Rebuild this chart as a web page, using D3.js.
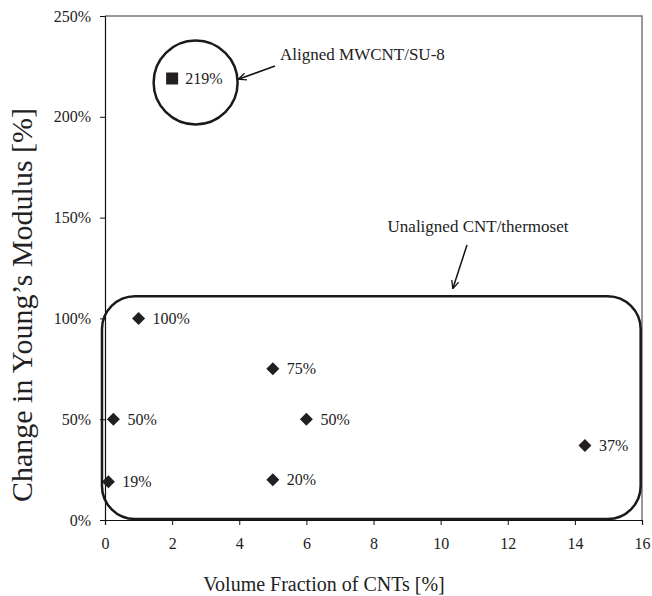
<!DOCTYPE html>
<html>
<head>
<meta charset="utf-8">
<script src="https://cdn.jsdelivr.net/npm/d3@7"></script>
<style>
  body { margin: 0; background: #fff; }
  svg text { font-family: "Liberation Serif", "DejaVu Serif", serif; fill: #222; }
</style>
</head>
<body>
<svg id="chart" width="652" height="596"></svg>
<script>
// unaligned CNT/thermoset points
const unalignedX = [1, 0.25, 0.1, 5, 6, 5, 14.3];
const unalignedY = [100, 50, 19, 75, 50, 20, 37];
// aligned MWCNT/SU-8 point
const alignedX = [2];
const alignedY = [219];

const xTicks = [0, 2, 4, 6, 8, 10, 12, 14, 16];
const yTicks = [0, 50, 100, 150, 200, 250];

const margin = { top: 16, right: 10, bottom: 76, left: 105 };
const width = 652, height = 596;

const svg = d3.select("#chart");

const x = d3.scaleLinear().domain([0, 16]).range([margin.left, width - margin.right]);
const y = d3.scaleLinear().domain([0, 250]).range([height - margin.bottom, margin.top]);

// plot frame (top/right grey)
svg.append("path")
  .attr("d", `M${x(0)},${y(250)}H${x(16)}V${y(0)}`)
  .attr("fill", "none")
  .attr("stroke", "#777")
  .attr("stroke-width", 1.5);

// axes
const xAxis = svg.append("g")
  .attr("transform", `translate(0,${y(0)})`)
  .call(d3.axisBottom(x).tickValues(xTicks).tickSize(5).tickPadding(13).tickFormat(d3.format("d")));
const yAxis = svg.append("g")
  .attr("transform", `translate(${x(0)},0)`)
  .call(d3.axisLeft(y).tickValues(yTicks).tickSize(5).tickPadding(9).tickFormat((d) => d + "%"));

[xAxis, yAxis].forEach((g) => {
  g.attr("font-family", null);
  g.select(".domain").attr("stroke", "#111").attr("stroke-width", 1.2);
  g.selectAll(".tick line").attr("stroke", "#111");
  g.selectAll(".tick text")
    .attr("font-size", 16)
    .attr("fill", "#222");
});

// rounded box around the unaligned group
svg.append("rect")
  .attr("x", x(-0.09))
  .attr("y", y(111))
  .attr("width", x(15.96) - x(-0.09))
  .attr("height", y(0.5) - y(111))
  .attr("rx", 33)
  .attr("ry", 33)
  .attr("fill", "none")
  .attr("stroke", "#1a1a1a")
  .attr("stroke-width", 2.5);

// circle around the aligned point
svg.append("circle")
  .attr("cx", x(2.7))
  .attr("cy", y(217))
  .attr("r", 42)
  .attr("fill", "none")
  .attr("stroke", "#1a1a1a")
  .attr("stroke-width", 2.5);

// diamonds
svg.selectAll(".diamond")
  .data(unalignedX)
  .enter()
  .append("path")
  .attr("class", "diamond")
  .attr("d", "M0,-6.5L6.5,0L0,6.5L-6.5,0Z")
  .attr("transform", (d, i) => `translate(${x(d)},${y(unalignedY[i])})`)
  .attr("fill", "#231f20");

svg.selectAll(".dlabel")
  .data(unalignedX)
  .enter()
  .append("text")
  .attr("class", "dlabel")
  .attr("x", (d) => x(d) + 14)
  .attr("y", (d, i) => y(unalignedY[i]))
  .attr("dy", "0.35em")
  .attr("font-size", 16)
  .text((d, i) => unalignedY[i] + "%");

// square
svg.selectAll(".square")
  .data(alignedX)
  .enter()
  .append("rect")
  .attr("class", "square")
  .attr("x", (d) => x(d) - 6)
  .attr("y", (d, i) => y(alignedY[i]) - 6)
  .attr("width", 12)
  .attr("height", 12)
  .attr("fill", "#231f20");

svg.selectAll(".slabel")
  .data(alignedX)
  .enter()
  .append("text")
  .attr("class", "slabel")
  .attr("x", (d) => x(d) + 13)
  .attr("y", (d, i) => y(alignedY[i]))
  .attr("dy", "0.35em")
  .attr("font-size", 16)
  .text((d, i) => alignedY[i] + "%");

// arrowheads
svg.append("defs")
  .append("marker")
  .attr("id", "arrow")
  .attr("viewBox", "0 -5 10 10")
  .attr("refX", 9)
  .attr("refY", 0)
  .attr("markerWidth", 8)
  .attr("markerHeight", 8)
  .attr("markerUnits", "userSpaceOnUse")
  .attr("orient", "auto")
  .append("path")
  .attr("d", "M0,-4.5L10,0L0,4.5")
  .attr("fill", "none")
  .attr("stroke", "#111")
  .attr("stroke-width", 1.6);

// annotations
svg.append("text")
  .attr("x", 280)
  .attr("y", 60)
  .attr("font-size", 17)
  .text("Aligned MWCNT/SU-8");
svg.append("line")
  .attr("x1", 275).attr("y1", 66)
  .attr("x2", 239).attr("y2", 79)
  .attr("stroke", "#111")
  .attr("stroke-width", 1.5)
  .attr("marker-end", "url(#arrow)");

svg.append("text")
  .attr("x", 478)
  .attr("y", 232)
  .attr("text-anchor", "middle")
  .attr("font-size", 17)
  .text("Unaligned CNT/thermoset");
svg.append("line")
  .attr("x1", 467).attr("y1", 245)
  .attr("x2", 453).attr("y2", 288)
  .attr("stroke", "#111")
  .attr("stroke-width", 1.5)
  .attr("marker-end", "url(#arrow)");

// axis titles
svg.append("text")
  .attr("x", 324)
  .attr("y", 591)
  .attr("text-anchor", "middle")
  .attr("font-size", 20)
  .text("Volume Fraction of CNTs [%]");

svg.append("text")
  .attr("transform", `translate(32,${(y(0) + y(250)) / 2 + 37}) rotate(-90)`)
  .attr("text-anchor", "middle")
  .attr("font-size", 30)
  .text("Change in Young\u2019s Modulus [%]");
</script>
</body>
</html>
